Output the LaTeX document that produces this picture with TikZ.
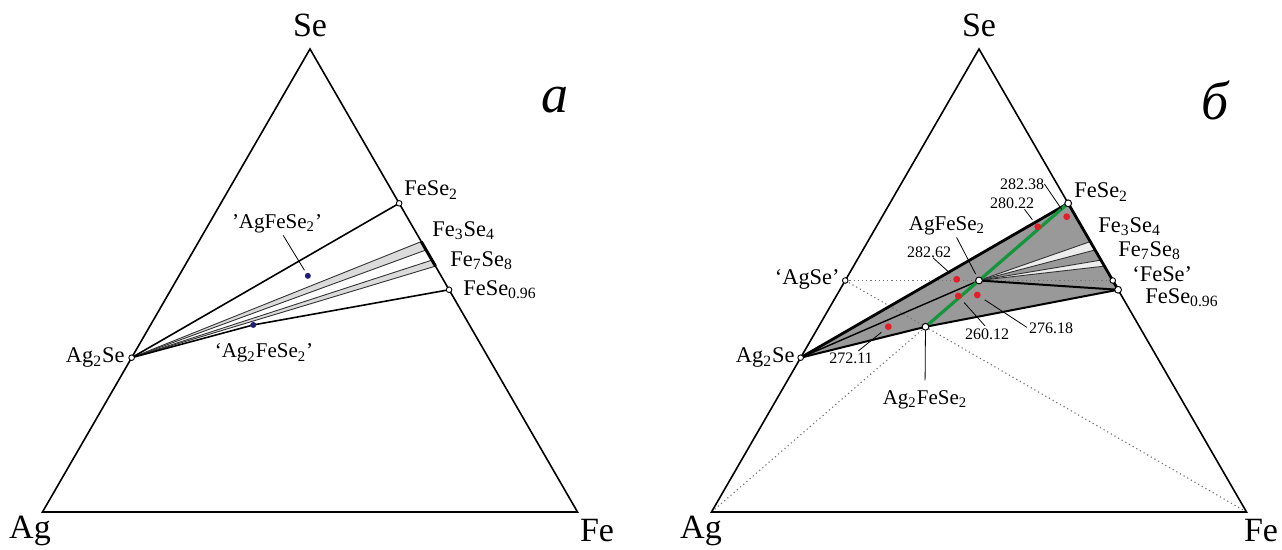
\documentclass[tikz,border=0pt]{standalone}
\usepackage{fontspec}
\setmainfont{Liberation Serif}
\usetikzlibrary{calc}
\definecolor{rdot}{RGB}{228,30,40}
\definecolor{bdot}{RGB}{30,30,120}
\definecolor{grn}{RGB}{20,150,60}
\newcommand\tp[3]{\coordinate (#1) at ({42.5+535*(#2+0.5*(#3))},{512-463*(#3)});}
\newcommand\sub[1]{\textsubscript{#1}}
\begin{document}
\begin{tikzpicture}[x=0.5pt,y=-0.5pt,
  edge/.style={line width=0.8pt, line join=miter},
  tie/.style={line width=0.8pt},
  thintie/.style={line width=0.45pt, draw=black!80},
  lead/.style={line width=0.4pt},
  dotl/.style={line width=0.55pt, draw=black!55, dash pattern=on 0.6pt off 1.5pt},
  oc/.style={circle, draw, fill=white, line width=0.5pt, inner sep=0pt, minimum size=3.4pt},
  ocs/.style={circle, draw, fill=white, line width=0.45pt, inner sep=0pt, minimum size=2.8pt},
  rd/.style={circle, fill=rdot, inner sep=0pt, minimum size=3.4pt},
  bd/.style={circle, fill=bdot, inner sep=0pt, minimum size=3pt},
  lab/.style={font=\fontsize{11.2}{13}\selectfont, inner sep=0pt},
  mlab/.style={font=\fontsize{10.5}{12}\selectfont, inner sep=0pt},
  num/.style={font=\fontsize{8}{9.5}\selectfont, inner sep=0pt},
  corner/.style={font=\fontsize{17}{20}\selectfont, inner sep=0pt},
  tag/.style={font=\fontsize{27}{30}\selectfont\itshape, inner sep=0pt},
  bandfill/.style={fill=black!14},
  wfill/.style={fill=black!7},
  gfill/.style={fill=black!40}
]
\useasboundingbox (0,0) rectangle (1282,550);

% ================= left triangle (a) =================
\tp{LAg}{0}{0} \tp{LFe}{1}{0} \tp{LSe}{0}{1}
\tp{LAgtwoSe}{0}{0.3333}
\tp{LFeSetwo}{0.3333}{0.6667}
\tp{LFeSeZ}{0.52}{0.48}
\tp{LbAa}{0.416}{0.584} \tp{LbAb}{0.434}{0.566}
\tp{LbBa}{0.456}{0.544} \tp{LbBb}{0.469}{0.531}
\tp{LAgFe}{0.241}{0.51}
\tp{LAgtwoFe}{0.192}{0.404}

\fill[bandfill] (LAgtwoSe) -- (LbAa) -- (LbAb) -- cycle;
\fill[bandfill] (LAgtwoSe) -- (LbBa) -- (LbBb) -- cycle;
\draw[thintie] (LAgtwoSe) -- (LbAa);
\draw[thintie] (LAgtwoSe) -- (LbAb);
\draw[thintie] (LAgtwoSe) -- (LbBa);
\draw[thintie] (LAgtwoSe) -- (LbBb);
\draw[tie] (LAgtwoSe) -- (LFeSetwo);
\draw[tie] (LAgtwoSe) -- (LAgtwoFe) -- (LFeSeZ);
\draw[edge] (LAg) -- (LFe) -- (LSe) -- cycle;
\draw[line width=1.5pt] (LbAa) -- (LbBb);

\node[ocs] (LcAgtwoSe) at (LAgtwoSe) {};
\node[ocs] (LcFeSetwo) at (LFeSetwo) {};
\node[ocs] (LcFeSeZ) at (LFeSeZ) {};
\node[bd] (LdAgFe) at (LAgFe) {};
\node[bd] (LdAgtwoFe) at (LAgtwoFe) {};

\node[corner] (LtSe) at (310,25) {Se};
\node[corner] (LtAg) at (30,531) {Ag};
\node[corner] (LtFe) at (597,531) {Fe};
\node[tag] (Ltag) at (555,100) {a};
\node[lab, anchor=west] (LlFeSetwo) at (404,190) {FeSe\sub{2}};
\node[lab, anchor=west] (LlFethree) at (432,231) {Fe\sub{3}Se\sub{4}};
\node[lab, anchor=west] (LlFeseven) at (450,261) {Fe\sub{7}Se\sub{8}};
\node[lab, anchor=west] (LlFeSeZ) at (463,290) {FeSe\sub{0.96}};
\node[lab, anchor=east] (LlAgtwoSe) at (125,358) {Ag\sub{2}Se};
\node[mlab] (LlAgFe) at (277,224) {’AgFeSe\sub{2}’};
\node[mlab] (LlAgtwoFe) at (264,353) {‘Ag\sub{2}FeSe\sub{2}’};
\draw[lead, shorten >=1.6pt, shorten <=1pt] (LlAgFe.-62) -- (LdAgFe);

% ================= right triangle (б) =================
\begin{scope}[shift={(669,0)}]
\tp{RAg}{0}{0} \tp{RFe}{1}{0} \tp{RSe}{0}{1}
\tp{RAgtwoSe}{0}{0.3333}
\tp{RFeSetwo}{0.3333}{0.6667}
\tp{RFeSeZ}{0.52}{0.48}
\tp{RFeSe}{0.5}{0.5}
\tp{RAgSe}{0}{0.5}
\tp{RbAa}{0.416}{0.584} \tp{RbAb}{0.434}{0.566}
\tp{RbBa}{0.456}{0.544} \tp{RbBb}{0.469}{0.531}
\tp{RAgFe}{0.25}{0.5}
\tp{RAgtwoFe}{0.2}{0.4}
\end{scope}

\fill[gfill] (RAgtwoSe) -- (RFeSetwo) -- (RFeSeZ) -- (RAgtwoFe) -- cycle;
\fill[wfill] (RAgFe) -- (RbAa) -- (RbAb) -- cycle;
\fill[wfill] (RAgFe) -- (RbBa) -- (RbBb) -- cycle;
\draw[dotl] (RAgSe) -- (RFeSe);
\draw[dotl] (RAgSe) -- (RFe);
\draw[dotl] (RAg) -- (RAgtwoFe);
\draw[thintie] (RAgFe) -- (RbAa);
\draw[thintie] (RAgFe) -- (RbAb);
\draw[thintie] (RAgFe) -- (RbBa);
\draw[thintie] (RAgFe) -- (RbBb);
\draw[tie, line width=0.7pt] (RAgtwoSe) -- (RAgFe);
\draw[tie, line width=1pt] (RAgFe) -- (RFeSeZ);
\draw[edge] (RAg) -- (RFe) -- (RSe) -- cycle;
\draw[line width=1.4pt, line join=round] (RAgtwoSe) -- (RFeSetwo) -- (RFeSeZ);
\draw[line width=1pt, line join=round] (RAgtwoSe) -- (RAgtwoFe) -- (RFeSeZ);
\draw[grn, line width=1.6pt] (RAgtwoFe) -- (RFeSetwo);

\node[ocs] (RcAgtwoSe) at (RAgtwoSe) {};
\node[ocs] (RcAgSe) at (RAgSe) {};
\node[ocs] (RcFeSe) at (RFeSe) {};
\node[oc] (RcFeSetwo) at (RFeSetwo) {};
\node[oc] (RcFeSeZ) at (RFeSeZ) {};
\node[oc] (RcAgFe) at (RAgFe) {};
\node[oc] (RcAgtwoFe) at (RAgtwoFe) {};

% red points
\node[rd] (d1) at (1066.7,216.7) {};
\node[rd] (d2) at (1037.7,226.7) {};
\node[rd] (d3) at (956.7,279.3) {};
\node[rd] (d4) at (958.3,296) {};
\node[rd] (d5) at (977.3,295) {};
\node[rd] (d6) at (888.3,326.7) {};

\node[num] (n1) at (1022,184) {282.38};
\node[num] (n2) at (1012,203.5) {280.22};
\node[num] (n3) at (929,252) {282.62};
\node[num] (n4) at (987,334) {260.12};
\node[num] (n5) at (1051,328.5) {276.18};
\node[num] (n6) at (851,358) {272.11};
\draw[lead, shorten >=2.5pt] (n1.east) -- (d1);
\draw[lead, shorten >=2.5pt] (n2.-25) -- (d2);
\draw[lead, shorten >=2.5pt] (n3.-55) -- (d3);
\draw[lead, shorten >=2.5pt, shorten <=1.5pt] (n4.north) -- (d4);
\draw[lead, shorten >=2.5pt, shorten <=1pt] (n5.west) -- (d5);
\draw[lead, shorten >=2.5pt, shorten <=1pt] (n6.45) -- (d6);

\node[corner] (RtSe) at (979,25) {Se};
\node[corner] (RtAg) at (701,531) {Ag};
\node[corner] (RtFe) at (1261,531) {Fe};
\node[tag] (Rtag) at (1215,100) {б};
\node[lab, anchor=west] (RlFeSetwo) at (1074,192) {FeSe\sub{2}};
\node[lab, anchor=west] (RlFethree) at (1098,227) {Fe\sub{3}Se\sub{4}};
\node[lab, anchor=west] (RlFeseven) at (1118,251) {Fe\sub{7}Se\sub{8}};
\node[lab, anchor=west] (RlFeSe) at (1132,274) {‘FeSe’};
\node[lab, anchor=west] (RlFeSeZ) at (1145,298) {FeSe\sub{0.96}};
\node[lab, anchor=east] (RlAgSe) at (840,279) {‘AgSe’};
\node[lab, anchor=east] (RlAgtwoSe) at (795,358) {Ag\sub{2}Se};
\node[mlab] (RlAgFe) at (947,226) {AgFeSe\sub{2}};
\node[mlab] (RlAgtwoFe) at (925,400) {Ag\sub{2}FeSe\sub{2}};
\draw[lead, shorten >=1.7pt, shorten <=1pt] (RlAgFe.-48) -- (RcAgFe);
\draw[lead, shorten <=5pt] (RlAgtwoFe.north) -- (RcAgtwoFe);
\end{tikzpicture}
\end{document}
